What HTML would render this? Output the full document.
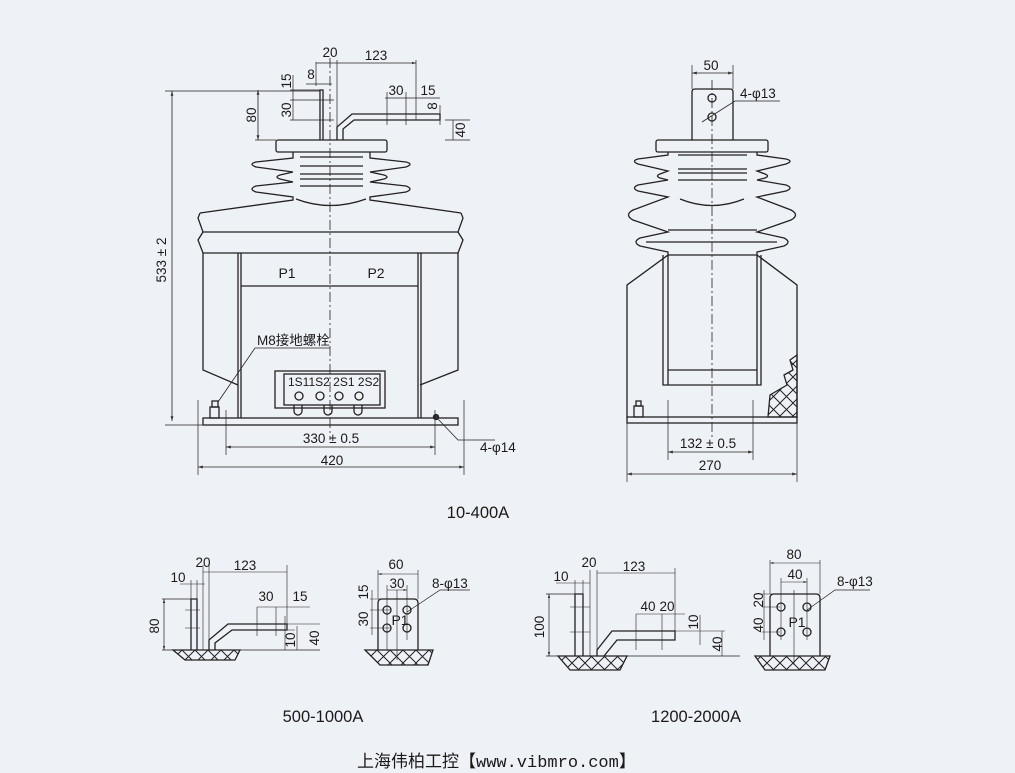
<!DOCTYPE html>
<html><head><meta charset="utf-8"><style>
html,body{margin:0;padding:0;background:#eef1f6;}
svg{display:block;}
text{font-family:"Liberation Sans","Noto Sans CJK SC",sans-serif;fill:#1a1a1a;}
</style></head><body>
<svg width="1015" height="773" viewBox="0 0 1015 773" xmlns="http://www.w3.org/2000/svg">
<defs>
<marker id="a" viewBox="0 0 10 10" refX="10" refY="5" markerWidth="6" markerHeight="6" orient="auto-start-reverse"><path d="M0,2 L10,5 L0,8z" fill="#333"/></marker>
<pattern id="h" width="13" height="13" patternUnits="userSpaceOnUse"><path d="M0,0 L13,13 M13,0 L0,13" stroke="#222" stroke-width="1"/></pattern>
</defs>
<rect width="1015" height="773" fill="#eef1f6"/>
<g fill="none" stroke="#222" stroke-width="1.3">
<!-- ===== LEFT MAIN ===== -->
<line x1="330" y1="58" x2="330" y2="440" stroke-dasharray="10,3,2,3" stroke-width="0.8"/>
<rect x="276" y="140" width="111" height="12" rx="2"/>
<path d="M293,152 L293,158 L256,162 Q248,164 256,167 L293,172 L280,175 Q274,177 280,179 L293,182 L256,186 Q248,189 256,192 L293,197 L293,200 L200,213"/>
<path d="M370,152 L370,158 L406,162 Q414,164 406,167 L370,172 L384,175 Q390,177 384,179 L370,182 L406,186 Q414,189 406,192 L370,197 L370,200 L461,213"/>
<path d="M300,157 H363 M300,166 H363 M300,174 H363 M300,179 H363 M300,186 H363"/>
<path d="M296,199 Q330,212 366,199"/>
<path d="M200,213 L198,218 L203,232 L198,240 L203,253 L458,253 L463,240 L458,232 L463,218 L461,213 M203,232 H458"/>
<path d="M203,253 V370 L238,385 M458,253 V370 L420,385"/>
<path d="M238,253 V418 M241,253 V418 M418,253 V418 M421,253 V418 M241,286 H418"/>
<rect x="203" y="418" width="255" height="7"/>
<rect x="275" y="371" width="110" height="37"/>
<rect x="284" y="374" width="96" height="31"/>
<circle cx="299" cy="396" r="4"/><circle cx="320" cy="396" r="4"/><circle cx="339" cy="396" r="4"/><circle cx="359" cy="396" r="4"/>
<path d="M294,405 v6 a4,4 0 0 0 8,0 v-6 M324,405 v6 a4,4 0 0 0 8,0 v-6 M354,405 v6 a4,4 0 0 0 8,0 v-6"/>
<rect x="212" y="401" width="6" height="6"/><rect x="210" y="407" width="9" height="11"/>
<circle cx="436" cy="417" r="2.5" fill="#333"/>
<path d="M320,140 V90 H323 V140"/>
<path d="M337,140 V127 L352,114 H440 V120 H354 L343,129 V140"/>
<path d="M172,91 V421" marker-start="url(#a)" marker-end="url(#a)" stroke-width="0.8"/>
<path d="M165,91 H320 M165,425 H203" stroke-width="0.7"/>
<path d="M258,90 V140" marker-start="url(#a)" marker-end="url(#a)" stroke-width="0.8"/>
<path d="M255,140 H276" stroke-width="0.7"/>
<path d="M293,75 V120" stroke-width="0.7"/>
<path d="M290,90 H320 M290,100 H334 M290,120 H334" stroke-width="0.7"/>
<path d="M198,400 V475 M464,400 V475 M226,410 V455 M435,410 V455" stroke-width="0.7"/>
<path d="M198,467 H464" marker-start="url(#a)" marker-end="url(#a)" stroke-width="0.8"/>
<path d="M226,447 H435" marker-start="url(#a)" marker-end="url(#a)" stroke-width="0.8"/>
<path d="M437,418 L458,440 H495" stroke-width="0.8"/>
<path d="M218,402 L255,348 H330" stroke-width="0.8"/>
<path d="M316,62 V86 M337,60 V140 M416,60 V120" stroke-width="0.7"/>
<path d="M316,63 H416" stroke-width="0.7" marker-end="url(#a)"/>
<path d="M306,84 H332" stroke-width="0.7"/>
<path d="M387,92 V125 M406,92 V125 M385,98 H440" stroke-width="0.7"/>
<path d="M440,105 V125 M453,120 V140 M445,120 H470 M445,140 H470" stroke-width="0.7"/>
<!-- ===== RIGHT MAIN ===== -->
<line x1="712" y1="80" x2="712" y2="440" stroke-dasharray="10,3,2,3" stroke-width="0.8"/>
<path d="M692,140 V92 Q692,89 695,89 H730 Q733,89 733,92 V140"/>
<circle cx="712" cy="98" r="4"/><circle cx="712" cy="117" r="4"/>
<rect x="656" y="140" width="112" height="12" rx="2"/>
<path d="M668,152 V155 L638,159 Q631,161 638,164 L668,171 L660,174 Q655,176 660,178 L668,180 L638,185 Q631,188 638,191 L668,197 L633,210 Q624,215 633,220 L668,232 L640,238 Q632,242 640,246 L668,252 V255 L627,285 V418"/>
<path d="M757,152 V155 L786,159 Q794,161 786,164 L757,171 L765,174 Q770,176 765,178 L757,180 L786,185 Q794,188 786,191 L757,197 L791,210 Q800,215 791,220 L757,232 L784,238 Q792,242 784,246 L757,252 V255 L797,285 V418"/>
<path d="M678,155 H747 M678,169 H747 M678,173 H747 M678,180 H747 M646,242 H777 M668,230 H757 M668,255 H757"/>
<path d="M680,199 Q712,212 744,199"/>
<path d="M663,255 V385 H761 V255 M668,255 V385 M757,255 V385 M668,370 H757"/>
<rect x="627" y="417" width="170" height="6"/>
<rect x="636" y="401" width="5" height="5"/><rect x="634" y="406" width="9" height="11"/>
<path d="M797,355 L790,360 L793,370 L784,375 L787,385 L770,395 L768,417 L797,417Z" fill="url(#h)"/>
<path d="M692,65 V89 M733,65 V89" stroke-width="0.7"/>
<path d="M692,73 H733" marker-start="url(#a)" marker-end="url(#a)" stroke-width="0.8"/>
<path d="M702,122 L735,101 H780" stroke-width="0.8"/>
<path d="M627,423 V482 M797,423 V482 M668,400 V460 M753,400 V460" stroke-width="0.7"/>
<path d="M627,474 H797" marker-start="url(#a)" marker-end="url(#a)" stroke-width="0.8"/>
<path d="M668,452 H753" marker-start="url(#a)" marker-end="url(#a)" stroke-width="0.8"/>
<!-- ===== BOTTOM LEFT ===== -->
<path d="M173,650 H240 L235,660 H185 Z" fill="url(#h)"/>
<path d="M191,650 V599 H197 V650"/>
<path d="M209,650 V640 L228,624 H287 V630 H232 L215,643 V650"/>
<path d="M162,599 H191 M162,650 H320" stroke-width="0.7"/>
<path d="M164,599 V650" marker-start="url(#a)" marker-end="url(#a)" stroke-width="0.7"/>
<path d="M191,580 V650 M197,580 V650 M203,565 V650 M209,565 V650 M287,565 V630" stroke-width="0.6"/>
<path d="M180,584 H205 M203,572 H287 M257,607 H310 M257,607 V636 M276,607 V636 M285,616 V650 M297,626 V650 M287,624 H320 M287,630 H295" stroke-width="0.6"/>
<path d="M185,610 H200 M185,628 H200" stroke-width="0.6"/>
<path d="M365,650 H433 L428,665 H380 Z" fill="url(#h)"/>
<path d="M378,650 V603 Q378,599 382,599 H414 Q418,599 418,603 V650"/>
<circle cx="387" cy="610" r="4"/><circle cx="407" cy="610" r="4"/><circle cx="387" cy="628" r="4"/><circle cx="407" cy="628" r="4"/>
<path d="M378,570 V599 M418,570 V599 M387,585 V650 M397,590 V660 M407,585 V640" stroke-width="0.6"/>
<path d="M378,574 H418 M387,590 H407" marker-start="url(#a)" marker-end="url(#a)" stroke-width="0.6"/>
<path d="M370,599 H390 M370,610 H390 M370,628 H390 M372,590 V635" stroke-width="0.6"/>
<path d="M407,612 L440,590 H470" stroke-width="0.7"/>
<!-- ===== BOTTOM RIGHT ===== -->
<path d="M558,656 H627 L620,670 H570 Z" fill="url(#h)"/>
<path d="M575,656 V594 H583 V656"/>
<path d="M597,656 V650 L612,631 H675 V640 L617,640 L604,656"/>
<path d="M546,594 H575 M546,656 H740" stroke-width="0.7"/>
<path d="M549,594 V656" marker-start="url(#a)" marker-end="url(#a)" stroke-width="0.7"/>
<path d="M575,580 V656 M583,580 V656 M590,570 V656 M597,570 V656 M675,568 V631" stroke-width="0.6"/>
<path d="M556,583 H590 M597,573 H675 M636,614 H685 M636,614 V650 M662,614 V650 M700,615 V645 M722,631 V656 M675,631 H725" stroke-width="0.6"/>
<path d="M570,607 H590 M570,632 H590" stroke-width="0.6"/>
<path d="M755,656 H830 L825,670 H765 Z" fill="url(#h)"/>
<path d="M770,656 V598 Q770,594 774,594 H816 Q820,594 820,598 V656"/>
<circle cx="781" cy="607" r="4"/><circle cx="807" cy="607" r="4"/><circle cx="781" cy="632" r="4"/><circle cx="807" cy="632" r="4"/>
<path d="M770,560 V594 M820,560 V594 M781,578 V640 M794,590 V665 M807,578 V640" stroke-width="0.6"/>
<path d="M770,563 H820 M781,582 H807" marker-start="url(#a)" marker-end="url(#a)" stroke-width="0.6"/>
<path d="M762,594 H780 M762,607 H780 M762,632 H780 M764,590 V640" stroke-width="0.6"/>
<path d="M807,610 L835,590 H870" stroke-width="0.7"/>
</g>
<g font-size="13.5">
<text x="330" y="57" text-anchor="middle">20</text>
<text x="376" y="60" text-anchor="middle">123</text>
<text x="311" y="79" text-anchor="middle">8</text>
<text x="396" y="95" text-anchor="middle">30</text>
<text x="428" y="95" text-anchor="middle">15</text>
<text transform="translate(291,81) rotate(-90)" text-anchor="middle">15</text>
<text transform="translate(291,110) rotate(-90)" text-anchor="middle">30</text>
<text transform="translate(256,115) rotate(-90)" text-anchor="middle">80</text>
<text transform="translate(437,106) rotate(-90)" text-anchor="middle">8</text>
<text transform="translate(465,130) rotate(-90)" text-anchor="middle">40</text>
<text transform="translate(166,260) rotate(-90)" text-anchor="middle">533 ± 2</text>
<text x="287" y="278" text-anchor="middle" font-size="14">P1</text>
<text x="376" y="278" text-anchor="middle" font-size="14">P2</text>
<text x="257" y="345">M8接地螺栓</text>
<text x="288" y="386" font-size="12">1S11S2 2S1 2S2</text>
<text x="331" y="443" text-anchor="middle">330 ± 0.5</text>
<text x="332" y="465" text-anchor="middle">420</text>
<text x="480" y="452">4-φ14</text>
<text x="711" y="70" text-anchor="middle">50</text>
<text x="740" y="98">4-φ13</text>
<text x="708" y="448" text-anchor="middle">132 ± 0.5</text>
<text x="710" y="470" text-anchor="middle">270</text>
<text x="178" y="582" text-anchor="middle">10</text>
<text x="203" y="567" text-anchor="middle">20</text>
<text x="245" y="570" text-anchor="middle">123</text>
<text x="266" y="601" text-anchor="middle">30</text>
<text x="300" y="601" text-anchor="middle">15</text>
<text transform="translate(159,626) rotate(-90)" text-anchor="middle">80</text>
<text transform="translate(295,640) rotate(-90)" text-anchor="middle">10</text>
<text transform="translate(319,638) rotate(-90)" text-anchor="middle">40</text>
<text x="396" y="569" text-anchor="middle">60</text>
<text x="397" y="588" text-anchor="middle">30</text>
<text x="432" y="588">8-φ13</text>
<text transform="translate(368,592) rotate(-90)" text-anchor="middle">15</text>
<text transform="translate(368,619) rotate(-90)" text-anchor="middle">30</text>
<text x="400" y="625" text-anchor="middle" font-size="14">P1</text>
<text x="561" y="581" text-anchor="middle">10</text>
<text x="589" y="567" text-anchor="middle">20</text>
<text x="634" y="571" text-anchor="middle">123</text>
<text x="648" y="611" text-anchor="middle">40</text>
<text x="667" y="611" text-anchor="middle">20</text>
<text transform="translate(698,622) rotate(-90)" text-anchor="middle">10</text>
<text transform="translate(722,644) rotate(-90)" text-anchor="middle">40</text>
<text transform="translate(544,627) rotate(-90)" text-anchor="middle">100</text>
<text x="794" y="559" text-anchor="middle">80</text>
<text x="795" y="579" text-anchor="middle">40</text>
<text x="837" y="586">8-φ13</text>
<text transform="translate(763,600) rotate(-90)" text-anchor="middle">20</text>
<text transform="translate(763,625) rotate(-90)" text-anchor="middle">40</text>
<text x="797" y="627" text-anchor="middle" font-size="14">P1</text>
</g>
<g font-size="16.5">
<text x="478" y="518" text-anchor="middle">10-400A</text>
<text x="323" y="722" text-anchor="middle">500-1000A</text>
<text x="696" y="722" text-anchor="middle">1200-2000A</text>
</g>
<text x="357" y="767" font-size="17">上海伟柏工控【<tspan font-family="Liberation Mono,monospace">www.vibmro.com</tspan>】</text>
</svg>
</body></html>
